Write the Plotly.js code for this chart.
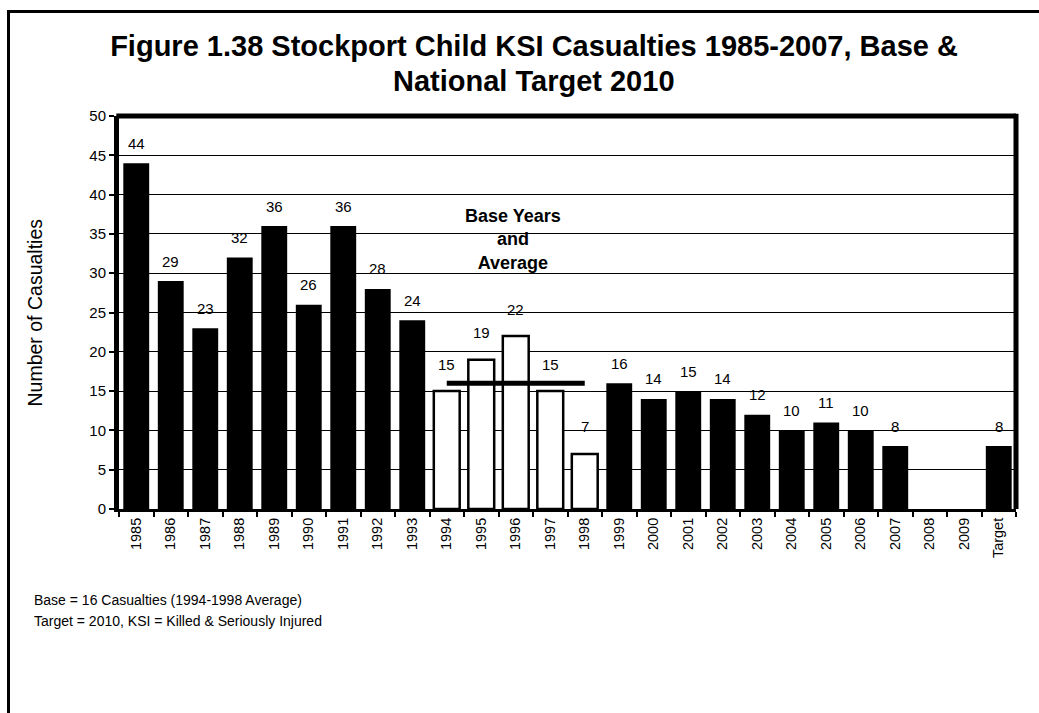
<!DOCTYPE html>
<html>
<head>
<meta charset="utf-8">
<script src="https://cdn.plot.ly/plotly-3.0.1.min.js"></script>
<style>
  html, body { margin: 0; padding: 0; background: #fff; overflow: hidden; }
  #chart { position: absolute; left: 0; top: 0; width: 1039px; height: 713px; }
  #frame { position: absolute; left: 7px; top: 10px; width: 1200px; height: 900px;
           border-left: 3px solid #000; border-top: 3px solid #000; pointer-events: none; }
</style>
</head>
<body>
<div id="chart"></div>
<div id="frame"></div>
<script>
// ---- data ----
const years = ['1985','1986','1987','1988','1989','1990','1991','1992','1993','1994','1995','1996','1997','1998','1999','2000','2001','2002','2003','2004','2005','2006','2007','2008','2009','Target'];
const casualties = [44,29,23,32,36,26,36,28,24,15,19,22,15,7,16,14,15,14,12,10,11,10,8,null,null,8];
const baseYears = ['1994','1995','1996','1997','1998'];
const baseAverage = 16;
const yTicks = [0,5,10,15,20,25,30,35,40,45,50];

const titleLine1 = 'Figure 1.38 Stockport Child KSI Casualties 1985-2007, Base &amp;';
const titleLine2 = 'National Target 2010';
const yTitle = 'Number of Casualties';
const baseNote = 'Base Years<br>and<br>Average';
const footnote1 = 'Base = 16 Casualties (1994-1998 Average)';
const footnote2 = 'Target = 2010, KSI = Killed &amp; Seriously Injured';

// ---- derived series ----
const blackVals = casualties.map((v, i) => baseYears.includes(years[i]) ? null : v);
const whiteVals = casualties.map((v, i) => baseYears.includes(years[i]) ? v : null);

const FONT = 'Liberation Sans, Arial, Helvetica, sans-serif';

const traces = [
  { type: 'bar', x: years, y: blackVals, marker: { color: '#000', line: { color: '#000', width: 0 } },
    hoverinfo: 'x+y', showlegend: false },
  { type: 'bar', x: years, y: whiteVals, marker: { color: '#fff', line: { color: '#000', width: 2.5 } },
    hoverinfo: 'x+y', showlegend: false },
  { type: 'scatter', mode: 'lines', x: [baseYears[0], baseYears[baseYears.length - 1]],
    y: [baseAverage, baseAverage], line: { color: '#000', width: 5 }, hoverinfo: 'skip', showlegend: false }
];

const annotations = [];
casualties.forEach((v, i) => {
  if (v === null) return;
  const isBase = baseYears.includes(years[i]);
  annotations.push({ xref: 'x', yref: 'y', x: i, y: v, text: String(v), showarrow: false,
    yanchor: 'middle', yshift: isBase ? 27 : 20, font: { family: FONT, size: 15, color: '#000' } });
});
annotations.push({ xref: 'x', yref: 'y', x: years.indexOf('1996'), y: 34.3, text: '<b>' + baseNote + '</b>', showarrow: false,
  yanchor: 'middle', xshift: -3, font: { family: FONT, size: 18, color: '#000' } });
annotations.push({ xref: 'paper', yref: 'paper', x: (32 - 119) / 897, y: (509 - 600) / 393, xanchor: 'left', yanchor: 'middle',
  align: 'left', text: footnote1, showarrow: false, font: { family: FONT, size: 14, color: '#000' } });
annotations.push({ xref: 'paper', yref: 'paper', x: (32 - 119) / 897, y: (509 - 621) / 393, xanchor: 'left', yanchor: 'middle',
  align: 'left', text: footnote2, showarrow: false, font: { family: FONT, size: 14, color: '#000' } });
annotations.push({ xref: 'paper', yref: 'paper', x: (34 - 119) / 897, y: 0.5, xanchor: 'center', yanchor: 'middle',
  textangle: -90, text: yTitle, showarrow: false, font: { family: FONT, size: 19.5, color: '#000' } });
annotations.push({ xref: 'paper', yref: 'paper', x: (534 - 119) / 897, y: (509 - 81) / 393, xanchor: 'center', yanchor: 'middle',
  text: '<b>' + titleLine2 + '</b>', showarrow: false, font: { family: FONT, size: 29, color: '#000' } });

const layout = {
  width: 1039, height: 713,
  margin: { l: 119, r: 23, t: 116, b: 204 },
  paper_bgcolor: '#fff', plot_bgcolor: '#fff',
  barmode: 'overlay', bargap: 0.25,
  showlegend: false,
  title: { text: '<b>' + titleLine1 + '</b>', x: 0.514, xanchor: 'center', yref: 'container', y: 1 - 46 / 713, yanchor: 'middle',
    font: { family: FONT, size: 29, color: '#000' } },
  xaxis: { type: 'category', categoryorder: 'array', categoryarray: years, range: [-0.5, years.length - 0.5], autorange: false,
    tickangle: -90, tickson: 'boundaries', ticks: 'outside', ticklen: 5, tickwidth: 2, tickcolor: '#000',
    showline: true, linecolor: '#000', linewidth: 3, showgrid: false, zeroline: false,
    tickfont: { family: FONT, size: 14.5, color: '#000' } },
  yaxis: { range: [0, 50], autorange: false, tickvals: yTicks, ticks: 'outside', ticklen: 5, tickwidth: 2, tickcolor: '#000',
    showline: true, linecolor: '#000', linewidth: 5, showgrid: true, gridcolor: '#000', gridwidth: 1,
    zeroline: false, tickfont: { family: FONT, size: 15, color: '#000' } },
  shapes: [
    { type: 'line', xref: 'paper', yref: 'paper', x0: -0.003, x1: 1, y0: 1, y1: 1, line: { color: '#000', width: 5 } },
    { type: 'line', xref: 'paper', yref: 'paper', x0: 1, x1: 1, y0: 0, y1: 1.006, line: { color: '#000', width: 5 } }
  ],
  annotations: annotations
};

Plotly.newPlot('chart', traces, layout, { displayModeBar: false, staticPlot: true });
</script>
</body>
</html>
